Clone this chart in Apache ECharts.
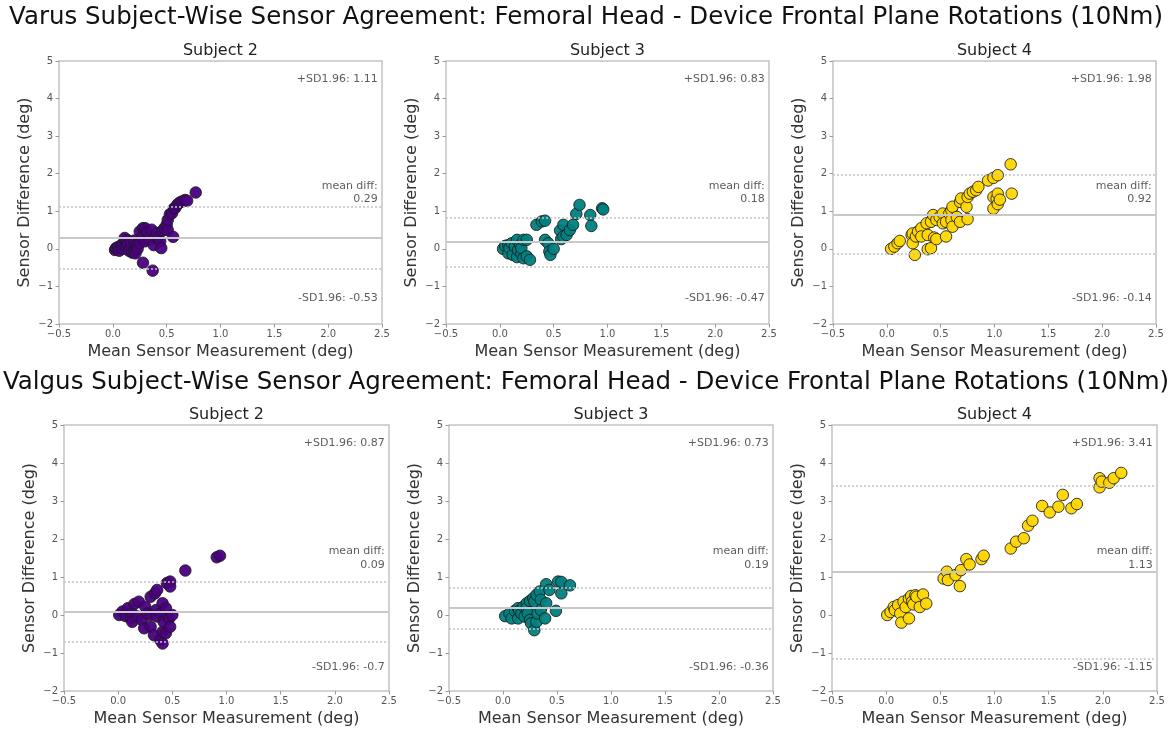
<!DOCTYPE html>
<html>
<head>
<meta charset="utf-8">
<script src="https://cdn.jsdelivr.net/npm/echarts@6/dist/echarts.min.js"></script>
<style>
  html, body { margin: 0; padding: 0; background: #ffffff; }
  #chart { width: 1174px; height: 731px; }
</style>
</head>
<body>
<div id="chart"></div>
<script>
// Bland-Altman style agreement plots: mean of the two sensors vs. their difference (deg)

const rowTitles = [
  'Varus Subject-Wise Sensor Agreement: Femoral Head - Device Frontal Plane Rotations (10Nm)',
  'Valgus Subject-Wise Sensor Agreement: Femoral Head - Device Frontal Plane Rotations (10Nm)'
];
const subjects = ['Subject 2', 'Subject 3', 'Subject 4'];
const subjectColors = ['#4b0082', '#008080', '#ffd700'];

const xTicks = [-0.5, 0.0, 0.5, 1.0, 1.5, 2.0, 2.5];
const yTicks = [-2, -1, 0, 1, 2, 3, 4, 5];

// [mean measurement, difference]
const varusS2 = [
  [0.02,-0.03],[0.03,0.02],[0.05,0.05],[0.06,-0.05],[0.08,0.10],[0.09,0.00],[0.10,0.15],[0.11,0.29],
  [0.12,0.05],[0.13,0.24],[0.14,0.11],[0.15,-0.05],[0.17,0.18],[0.18,-0.10],[0.20,0.22],[0.20,-0.07],
  [0.21,-0.12],[0.22,0.10],[0.23,0.00],[0.25,0.15],[0.25,0.46],[0.27,0.30],[0.28,0.55],[0.28,-0.37],
  [0.30,0.20],[0.30,0.55],[0.32,0.45],[0.34,0.25],[0.36,0.51],[0.37,-0.58],[0.38,0.10],[0.41,0.42],
  [0.42,0.28],[0.44,0.20],[0.45,0.02],[0.46,0.48],[0.48,0.55],[0.50,0.64],[0.51,0.50],[0.51,0.77],
  [0.53,0.92],[0.55,0.95],[0.56,0.32],[0.57,1.08],[0.58,1.09],[0.60,1.18],[0.62,1.23],[0.64,1.26],
  [0.67,1.30],[0.69,1.28],[0.77,1.50]
];
const varusS3 = [
  [0.03,0.00],[0.05,0.08],[0.08,0.10],[0.08,-0.12],[0.09,0.02],[0.11,0.15],[0.12,-0.16],[0.14,0.06],
  [0.16,0.24],[0.16,-0.22],[0.17,-0.03],[0.19,0.10],[0.20,-0.12],[0.20,0.02],[0.22,0.24],[0.22,-0.25],
  [0.25,0.24],[0.25,-0.20],[0.28,-0.29],[0.34,0.64],[0.39,0.73],[0.42,0.75],[0.42,0.24],[0.45,0.15],
  [0.46,-0.07],[0.47,-0.16],[0.50,0.00],[0.56,0.49],[0.57,0.26],[0.59,0.64],[0.59,0.33],[0.62,0.37],
  [0.65,0.50],[0.68,0.64],[0.71,0.93],[0.74,1.17],[0.84,0.90],[0.85,0.61],[0.95,1.08],[0.96,1.05]
];
const varusS4 = [
  [0.04,0.00],[0.07,0.06],[0.10,0.15],[0.12,0.21],[0.23,0.37],[0.24,0.41],[0.24,0.15],[0.26,-0.16],
  [0.27,0.33],[0.29,0.46],[0.32,0.55],[0.32,0.33],[0.37,0.68],[0.38,0.37],[0.38,-0.01],[0.41,0.72],
  [0.41,0.02],[0.43,0.90],[0.44,0.30],[0.46,0.77],[0.46,0.26],[0.49,0.85],[0.52,0.94],[0.52,0.68],
  [0.55,0.72],[0.55,0.33],[0.58,0.94],[0.60,1.03],[0.60,0.77],[0.61,1.12],[0.61,0.59],[0.65,0.85],
  [0.68,1.25],[0.68,0.72],[0.69,1.34],[0.74,1.12],[0.75,1.38],[0.75,0.79],[0.77,1.47],[0.80,1.52],
  [0.83,1.56],[0.85,1.65],[0.94,1.82],[0.99,1.89],[0.99,1.07],[0.99,1.38],[1.02,1.34],[1.03,1.96],
  [1.03,1.47],[1.03,1.19],[1.05,1.31],[1.15,2.25],[1.16,1.47]
];
const valgusS2 = [
  [0.01,0.00],[0.04,0.09],[0.07,-0.03],[0.09,0.18],[0.12,-0.09],[0.13,0.04],[0.13,-0.18],[0.15,0.29],
  [0.18,-0.04],[0.19,0.35],[0.22,-0.13],[0.24,-0.35],[0.25,0.22],[0.27,0.04],[0.30,0.48],[0.30,0.00],
  [0.30,-0.31],[0.33,-0.53],[0.34,0.57],[0.35,0.13],[0.36,0.66],[0.36,-0.04],[0.39,0.04],[0.39,-0.66],
  [0.41,0.31],[0.41,-0.44],[0.41,-0.75],[0.42,-0.18],[0.44,0.18],[0.44,-0.48],[0.45,0.84],[0.47,-0.09],
  [0.48,0.88],[0.48,0.75],[0.48,-0.31],[0.50,0.00],[0.62,1.17],[0.91,1.52],[0.94,1.56]
];
const valgusS3 = [
  [0.02,-0.03],[0.06,0.04],[0.08,-0.09],[0.11,0.11],[0.14,0.18],[0.14,-0.09],[0.15,0.11],[0.17,0.04],
  [0.19,0.22],[0.20,-0.04],[0.22,0.31],[0.22,0.18],[0.23,0.04],[0.25,0.37],[0.25,-0.13],[0.26,-0.22],
  [0.28,0.44],[0.29,0.35],[0.29,-0.40],[0.31,0.53],[0.31,-0.18],[0.32,0.04],[0.34,0.62],[0.35,0.40],
  [0.35,0.13],[0.39,-0.09],[0.40,0.81],[0.40,0.31],[0.43,0.66],[0.49,0.11],[0.51,0.88],[0.54,0.87],
  [0.54,0.57],[0.62,0.78]
];
const valgusS4 = [
  [0.01,0.00],[0.04,0.08],[0.07,0.21],[0.08,0.13],[0.11,0.26],[0.13,0.04],[0.14,-0.20],[0.16,0.35],
  [0.18,0.21],[0.21,0.43],[0.21,-0.09],[0.23,0.50],[0.24,0.35],[0.25,0.28],[0.27,0.52],[0.28,0.48],
  [0.31,0.21],[0.34,0.54],[0.37,0.30],[0.53,0.96],[0.56,1.14],[0.57,0.92],[0.64,1.05],[0.68,0.76],
  [0.69,1.18],[0.74,1.47],[0.77,1.33],[0.88,1.47],[0.90,1.56],[1.15,1.75],[1.20,1.93],[1.27,2.02],
  [1.31,2.35],[1.35,2.48],[1.44,2.87],[1.51,2.70],[1.59,2.85],[1.63,3.16],[1.71,2.81],[1.76,2.92],
  [1.97,3.60],[1.97,3.36],[1.99,3.51],[2.06,3.48],[2.10,3.60],[2.17,3.74]
];

// [+1.96 SD, mean difference, -1.96 SD] per subject
const varusStats  = [[1.11, 0.29, -0.53], [0.83, 0.18, -0.47], [1.98, 0.92, -0.14]];
const valgusStats = [[0.87, 0.09, -0.7],  [0.73, 0.19, -0.36], [3.41, 1.13, -1.15]];

const rows = [
  { title: rowTitles[0], data: [varusS2, varusS3, varusS4], stats: varusStats },
  { title: rowTitles[1], data: [valgusS2, valgusS3, valgusS4], stats: valgusStats }
];

// plot boxes (px)
const boxes = [
  [{ left: 59, top: 61, width: 323, height: 263 }, { left: 446, top: 61, width: 323, height: 263 }, { left: 833, top: 61, width: 323, height: 263 }],
  [{ left: 64, top: 425, width: 325, height: 266 }, { left: 449, top: 425, width: 324, height: 266 }, { left: 832, top: 425, width: 325, height: 266 }]
];
const rowTitleY = [18, 383];
// vertical anchors (data units) for the three annotations on each row
const noteY = [[4.53, 1.5, -1.30], [4.52, 1.49, -1.37]];

const minus = v => (v < 0 ? '\u2212' : '');
const fmtX = v => minus(v) + Math.abs(v).toFixed(1);
const fmtY = v => minus(v) + Math.abs(v).toFixed(0);

const grids = [], xAxes = [], yAxes = [], series = [], graphics = [];
const FONT = '"DejaVu Sans", sans-serif';

rows.forEach((row, r) => {
  graphics.push({
    type: 'text', x: 586, y: rowTitleY[r],
    style: { text: row.title, fill: '#111', font: '24.5px ' + FONT, textAlign: 'center', textVerticalAlign: 'middle' }
  });
  row.data.forEach((pts, c) => {
    const idx = grids.length;
    const b = boxes[r][c];
    grids.push(Object.assign({ show: true, borderColor: '#c4c4c4', borderWidth: 1.5, backgroundColor: 'transparent' }, b));
    graphics.push({
      type: 'text', x: b.left + b.width / 2, y: b.top - 10,
      style: { text: subjects[c], fill: '#222', font: '16px ' + FONT, textAlign: 'center', textVerticalAlign: 'middle' }
    });
    xAxes.push({
      gridIndex: idx, type: 'value', min: xTicks[0], max: xTicks[xTicks.length - 1], interval: 0.5,
      name: 'Mean Sensor Measurement (deg)', nameLocation: 'middle', nameGap: 20,
      nameTextStyle: { fontSize: 16, color: '#333', fontFamily: FONT },
      axisLine: { show: false, onZero: false },
      axisTick: { show: true, length: 3.5, lineStyle: { color: '#999' } },
      axisLabel: { formatter: fmtX, fontSize: 10, color: '#555', fontFamily: FONT, margin: 5 },
      splitLine: { show: false }
    });
    yAxes.push({
      gridIndex: idx, type: 'value', min: yTicks[0], max: yTicks[yTicks.length - 1], interval: 1,
      name: 'Sensor Difference (deg)', nameLocation: 'middle', nameGap: 26, nameRotate: 90,
      nameTextStyle: { fontSize: 16, color: '#333', fontFamily: FONT },
      axisLine: { show: false, onZero: false },
      axisTick: { show: true, length: 3.5, lineStyle: { color: '#999' } },
      axisLabel: { formatter: fmtY, fontSize: 10, color: '#555', fontFamily: FONT, margin: 6 },
      splitLine: { show: false }
    });
    const [upper, mean, lower] = row.stats[c];
    series.push({
      type: 'scatter', xAxisIndex: idx, yAxisIndex: idx, data: pts,
      symbolSize: 11.5,
      itemStyle: { color: subjectColors[c], borderColor: '#1a1a1a', borderWidth: 0.9, opacity: 0.95 },
      silent: true,
      markLine: {
        silent: true, symbol: 'none', z: 5, label: { show: false },
        data: [
          { yAxis: upper, lineStyle: { type: [2, 2], color: '#c4c4c4', width: 1.5 } },
          { yAxis: mean,  lineStyle: { type: 'solid', color: '#c8c8c8', width: 2 } },
          { yAxis: lower, lineStyle: { type: [2, 2], color: '#c4c4c4', width: 1.5 } }
        ]
      }
    });
    // agreement annotations along the right edge
    const ny = noteY[r];
    series.push({
      type: 'scatter', xAxisIndex: idx, yAxisIndex: idx, symbolSize: 0, silent: true,
      label: {
        show: true, position: 'left', distance: 0, align: 'right',
        fontSize: 11, lineHeight: 13.5, color: '#333', fontFamily: FONT,
        formatter: p => p.name
      },
      data: [
        { name: '+SD1.96: ' + upper, value: [2.46, ny[0]] },
        { name: 'mean diff:\n' + mean, value: [2.46, ny[1]] },
        { name: '-SD1.96: ' + lower, value: [2.46, ny[2]] }
      ]
    });
  });
});

const chart = echarts.init(document.getElementById('chart'), null, { renderer: 'canvas' });
chart.setOption({
  animation: false,
  backgroundColor: '#ffffff',
  grid: grids,
  xAxis: xAxes,
  yAxis: yAxes,
  series: series,
  graphic: graphics
});
</script>
</body>
</html>
